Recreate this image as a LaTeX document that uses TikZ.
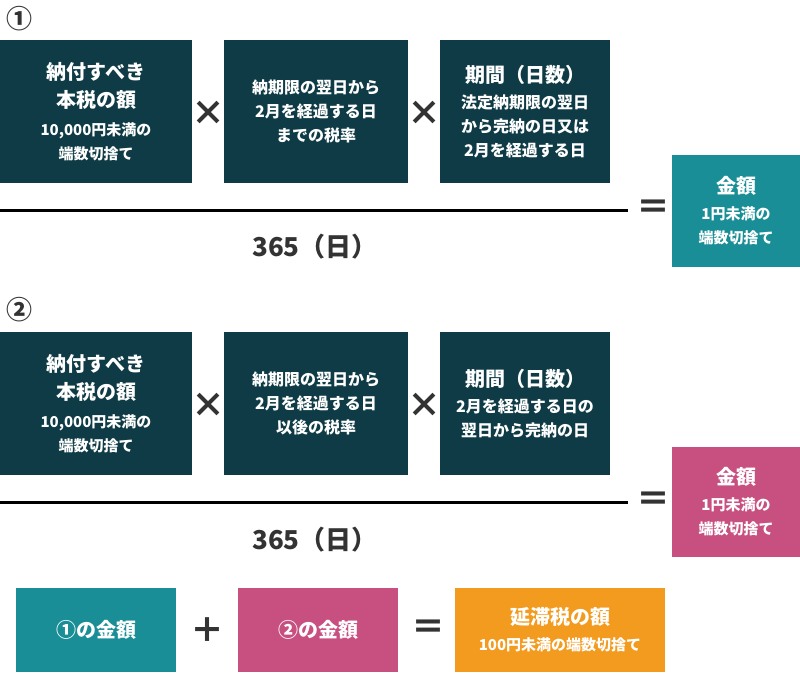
\documentclass[tikz,border=0pt]{standalone}
\usepackage{fontspec}
\setmainfont{Noto Sans CJK JP}
\definecolor{dk}{HTML}{0E3B45}
\definecolor{tl}{HTML}{1A8E96}
\definecolor{pk}{HTML}{C85081}
\definecolor{og}{HTML}{F39B1F}
\definecolor{tx}{HTML}{333333}
\begin{document}
\begin{tikzpicture}[x=1pt,y=-1pt,
 box/.style={fill=#1,text=white,inner sep=0pt,align=center,font=\fontsize{15}{24}\selectfont\bfseries},
 op/.style={text=tx,font=\fontsize{34}{34}\selectfont\bfseries,inner sep=0pt},
 num/.style={text=tx,font=\fontsize{26}{26}\selectfont\bfseries,inner sep=0pt}]
\useasboundingbox (0,0) rectangle (800,674);
\newcommand{\B}[1]{{\fontsize{20}{24}\selectfont #1}}
\newcommand{\Sm}[1]{{\fontsize{15}{24}\selectfont #1}}
\newcommand{\M}[1]{{\fontsize{16}{24}\selectfont #1}}
% row 1
\node[num] (c1) at (19,19) {①};
\node[box=dk,minimum width=192,minimum height=143] (a1) at (96,111.5) {\B{納付すべき}\\[4pt]\B{本税の額}\\[4pt]\Sm{10,000円未満の}\\\Sm{端数切捨て}};
\node[box=dk,minimum width=184,minimum height=143] (b1) at (316,111.5) {\M{納期限の翌日から}\\\M{2月を経過する日}\\\M{までの税率}};
\node[box=dk,minimum width=170,minimum height=143] (d1) at (525,111.5) {\B{期間（日数）}\\[2pt]\M{法定納期限の翌日}\\\M{から完納の日又は}\\\M{2月を経過する日}};
\node[op] (x1) at (208,113) {×};
\node[op] (x2) at (424,113) {×};
\coordinate (l1a) at (0,210); \coordinate (l1b) at (628,210);
\draw[line width=3pt,black] (l1a) -- (l1b);
\node[num] (n1) at (315,247) {365（日）};
\node[op] (e1) at (653,210) {＝};
\node[box=tl,minimum width=128,minimum height=112] (r1) at (736,211) {\B{金額}\\[2pt]\Sm{1円未満の}\\\Sm{端数切捨て}};
% row 2
\node[num] (c2) at (19,310) {②};
\node[box=dk,minimum width=192,minimum height=143] (a2) at (96,403.5) {\B{納付すべき}\\[4pt]\B{本税の額}\\[4pt]\Sm{10,000円未満の}\\\Sm{端数切捨て}};
\node[box=dk,minimum width=184,minimum height=143] (b2) at (316,403.5) {\M{納期限の翌日から}\\\M{2月を経過する日}\\\M{以後の税率}};
\node[box=dk,minimum width=170,minimum height=143] (d2) at (525,403.5) {\B{期間（日数）}\\[2pt]\M{2月を経過する日の}\\\M{翌日から完納の日}};
\node[op] (x3) at (208,405) {×};
\node[op] (x4) at (424,405) {×};
\coordinate (l2a) at (0,502); \coordinate (l2b) at (628,502);
\draw[line width=3pt,black] (l2a) -- (l2b);
\node[num] (n2) at (315,540) {365（日）};
\node[op] (e2) at (653,502) {＝};
\node[box=pk,minimum width=128,minimum height=110] (r2) at (736,502) {\B{金額}\\[2pt]\Sm{1円未満の}\\\Sm{端数切捨て}};
% row 3
\node[box=tl,minimum width=160,minimum height=84] (s1) at (96,630) {\B{①の金額}};
\node[op] (p) at (207,630) {＋};
\node[box=pk,minimum width=160,minimum height=84] (s2) at (318,630) {\B{②の金額}};
\node[op] (e3) at (428,630) {＝};
\node[box=og,minimum width=210,minimum height=84] (s3) at (560,630) {\B{延滞税の額}\\[2pt]\Sm{100円未満の端数切捨て}};
\end{tikzpicture}
\end{document}
